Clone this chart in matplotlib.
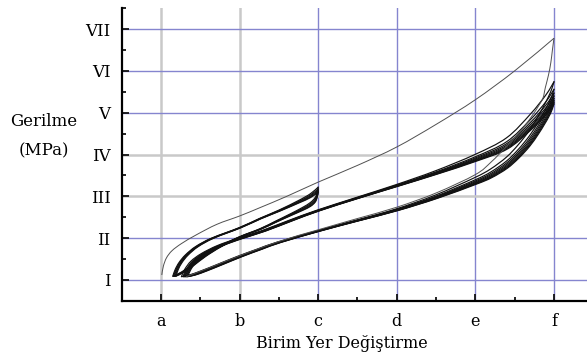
import matplotlib
matplotlib.use("Agg")
import matplotlib.pyplot as plt
from matplotlib.path import Path
from matplotlib.patches import PathPatch
import numpy as np

# ---- axis categories -------------------------------------------------------
X_TICKS = [1, 2, 3, 4, 5, 6]
X_LABELS = ["a", "b", "c", "d", "e", "f"]
Y_TICKS = [1, 2, 3, 4, 5, 6, 7]
Y_LABELS = ["I", "II", "III", "IV", "V", "VI", "VII"]

# ---- first (virgin) loading path: a -> c -> f -------------------------------
FIRST_LOAD_X = [1.01, 1.03, 1.07, 1.14, 1.26, 1.45, 1.71, 2.00, 2.26, 2.60,
                3.00, 3.50, 4.00, 4.50, 5.00, 5.50, 6.00]
FIRST_LOAD_Y = [1.12, 1.33, 1.53, 1.70, 1.87, 2.08, 2.33, 2.53, 2.73, 3.00,
                3.34, 3.74, 4.18, 4.72, 5.31, 6.00, 6.78]

# unloading from the highest peak at f
FIRST_UNLOAD_X = [6.00, 5.98, 5.96, 5.93, 5.89, 5.86, 5.80, 5.73, 5.60, 5.40,
                  5.20, 5.00, 4.50, 4.00, 3.50, 3.00, 2.50, 2.00, 1.60, 1.32]
FIRST_UNLOAD_Y = [6.78, 6.50, 6.20, 5.90, 5.60, 5.35, 5.15, 4.95, 4.62, 4.20,
                  3.82, 3.52, 3.08, 2.74, 2.47, 2.20, 1.92, 1.58, 1.28, 1.08]

# ---- small cycles between the lower tip and c -------------------------------
SMALL_LOAD_X = [1.16, 1.19, 1.24, 1.32, 1.45, 1.65, 2.00, 2.26, 2.50, 2.75,
                2.90, 3.00]
SMALL_LOAD_Y = [1.09, 1.25, 1.42, 1.60, 1.80, 2.00, 2.25, 2.47, 2.66, 2.88,
                3.03, 3.18]
SMALL_UNLOAD_X = [3.00, 2.985, 2.96, 2.90, 2.80, 2.65, 2.45, 2.26, 2.00, 1.75,
                  1.55, 1.40, 1.27, 1.16]
SMALL_UNLOAD_Y = [3.18, 3.04, 2.93, 2.82, 2.71, 2.57, 2.39, 2.22, 2.03, 1.80,
                  1.57, 1.36, 1.19, 1.09]
SMALL_PEAKS = [3.22, 3.18, 3.15, 3.12, 3.10]
SMALL_TIPS = [1.15, 1.16, 1.17, 1.18, 1.19]

# ---- large cycles between the lower tip and f -------------------------------
BIG_LOAD_X = [1.30, 1.34, 1.42, 1.55, 1.75, 2.00, 2.30, 2.65, 3.00, 3.50,
              4.00, 4.50, 5.00, 5.40, 5.70, 5.90, 6.00]
BIG_LOAD_Y = [1.08, 1.25, 1.45, 1.63, 1.82, 1.99, 2.17, 2.42, 2.66, 2.96,
              3.25, 3.55, 3.88, 4.20, 4.68, 5.08, 5.35]
BIG_UNLOAD_X = [6.00, 5.97, 5.93, 5.88, 5.80, 5.69, 5.55, 5.40, 5.20, 5.00,
                4.50, 4.00, 3.50, 3.00, 2.50, 2.26, 2.00, 1.75, 1.55, 1.40,
                1.30]
BIG_UNLOAD_Y = [5.35, 5.18, 5.02, 4.85, 4.60, 4.30, 4.00, 3.74, 3.50, 3.33,
                2.97, 2.67, 2.42, 2.17, 1.90, 1.74, 1.56, 1.37, 1.22, 1.12,
                1.08]
BIG_PEAKS = [5.74, 5.56, 5.47, 5.40, 5.34, 5.29, 5.25, 5.21]
BIG_TIPS = [1.26, 1.28, 1.29, 1.30, 1.31, 1.32, 1.33, 1.34]

# ---- figure ------------------------------------------------------------------
W, H = 587, 358
fig = plt.figure(figsize=(W / 100, H / 100), dpi=100)
ax = fig.add_axes([121.7 / W, 1 - 300.9 / H, 1 - 121.7 / W, (300.9 - 8.1) / H])
ax.set_xlim(0.5, 6.42)
ax.set_ylim(0.5, 7.5)

BLUE = "#8585cf"
SOFT = "#c9c9c9"
soft_x = {"a", "b"}
soft_y = {"III", "IV"}
for t, lab in zip(X_TICKS, X_LABELS):
    if lab in soft_x:
        ax.axvline(t, color=SOFT, lw=1.8, zorder=0)
    else:
        ax.axvline(t, color=BLUE, lw=1.0, zorder=0)
for t, lab in zip(Y_TICKS, Y_LABELS):
    if lab in soft_y:
        ax.axhline(t, color=SOFT, lw=1.8, zorder=0)
    else:
        ax.axhline(t, color=BLUE, lw=1.0, zorder=0)


def cycle_branch(bx, by, tip, peak, power=5):
    """Shift a branch so that it starts at `tip` and reaches `peak`."""
    bx = np.asarray(bx, float)
    by = np.asarray(by, float)
    x_tip = bx[np.argmin(bx)]
    x_pk = bx[np.argmax(bx)]
    y_pk = by[np.argmax(bx)]
    u = (bx - x_tip) / (x_pk - x_tip)
    return bx + (tip - x_tip) * (1 - u), by + (peak - y_pk) * u ** power


def smooth_curve(ax, xs, ys, **kw):
    """Draw a smooth Bezier curve passing through the given points."""
    p = np.column_stack([xs, ys]).astype(float)
    ext = np.vstack([p[0], p, p[-1]])
    verts = [p[0]]
    codes = [Path.MOVETO]
    for i in range(len(p) - 1):
        p0, p1, p2, p3 = ext[i], ext[i + 1], ext[i + 2], ext[i + 3]
        verts += [p1 + (p2 - p0) / 6, p2 - (p3 - p1) / 6, p2]
        codes += [Path.CURVE4] * 3
    ax.add_patch(PathPatch(Path(verts, codes), fill=False, **kw))


LINE = dict(edgecolor="#111111", lw=0.85, capstyle="round", zorder=2)

for tip, pk in zip(SMALL_TIPS, SMALL_PEAKS):
    smooth_curve(ax, *cycle_branch(SMALL_LOAD_X, SMALL_LOAD_Y, tip, pk), **LINE)
    smooth_curve(ax, *cycle_branch(SMALL_UNLOAD_X, SMALL_UNLOAD_Y, tip, pk), **LINE)

for tip, pk in zip(BIG_TIPS, BIG_PEAKS):
    smooth_curve(ax, *cycle_branch(BIG_LOAD_X, BIG_LOAD_Y, tip, pk), **LINE)
    smooth_curve(ax, *cycle_branch(BIG_UNLOAD_X, BIG_UNLOAD_Y, tip, pk), **LINE)

THIN = dict(edgecolor="#505050", lw=0.7, zorder=3)
smooth_curve(ax, FIRST_LOAD_X, FIRST_LOAD_Y, **THIN)
smooth_curve(ax, FIRST_UNLOAD_X, FIRST_UNLOAD_Y, **THIN)

# ---- axes decoration -----------------------------------------------------------
for s in ("top", "right"):
    ax.spines[s].set_visible(False)
for s in ("left", "bottom"):
    ax.spines[s].set_linewidth(1.6)
    ax.spines[s].set_zorder(5)

FONT = "DejaVu Serif"
ax.set_xticks(X_TICKS)
ax.set_xticklabels(X_LABELS, family=FONT, fontsize=11.5)
ax.set_yticks(Y_TICKS)
ax.set_yticklabels(Y_LABELS, family=FONT, fontsize=12)
ax.set_xticks([t + 0.5 for t in X_TICKS[:-1]] + [0.5], minor=True)
ax.set_yticks([t + 0.5 for t in Y_TICKS[:-1]] + [0.5, 7.5], minor=True)
ax.tick_params(which="major", direction="in", length=5, width=1.3, color="#111")
ax.tick_params(which="minor", direction="in", length=3, width=1.3, color="#111")
ax.tick_params(axis="y", which="major", pad=8)
ax.tick_params(axis="x", which="major", pad=9)

fig.text(342 / W, 1 - 344 / H, "Birim Yer Değiştirme", family=FONT, fontsize=11.5,
         ha="center", va="center")
fig.text(44 / W, 1 - 122 / H, "Gerilme", family=FONT, fontsize=12,
         ha="center", va="center")
fig.text(44 / W, 1 - 151 / H, "(MPa)", family=FONT, fontsize=12,
         ha="center", va="center")

fig.savefig("out.png", dpi=100)
